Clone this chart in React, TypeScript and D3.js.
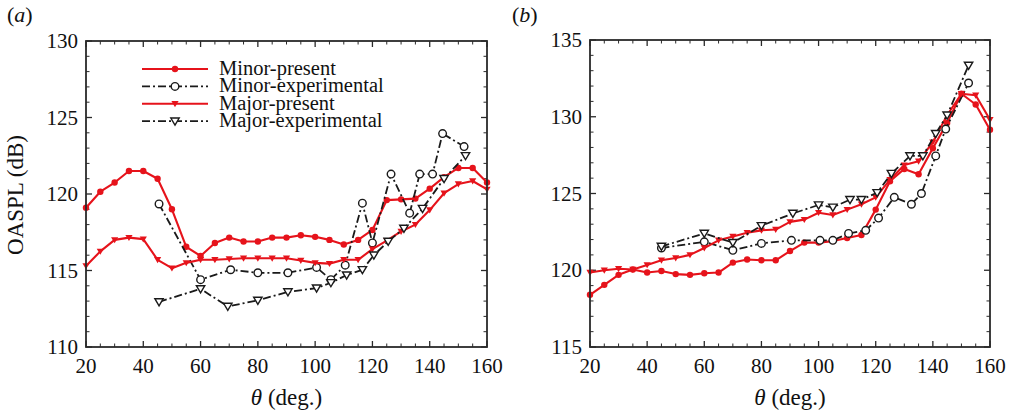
import React from "react";
import * as d3 from "d3";

// ---------- data ----------
const THETA_PRESENT = [20, 25, 30, 35, 40, 45, 50, 55, 60, 65, 70, 75, 80, 85, 90, 95, 100, 105, 110, 115, 120, 125, 130, 135, 140, 145, 150, 155, 160];

// Panel (a)
const A_MINOR_PRESENT = [119.1, 120.15, 120.75, 121.5, 121.5, 121.0, 119.0, 116.55, 115.95, 116.8, 117.15, 116.9, 116.9, 117.15, 117.15, 117.3, 117.2, 117.0, 116.7, 117.0, 117.65, 119.6, 119.65, 119.7, 120.35, 121.1, 121.7, 121.7, 120.75];
const A_MAJOR_PRESENT = [115.3, 116.25, 117.0, 117.15, 117.05, 115.7, 115.15, 115.5, 115.7, 115.7, 115.75, 115.8, 115.8, 115.8, 115.8, 115.65, 115.5, 115.45, 115.7, 115.7, 116.4, 116.95, 117.55, 118.0, 118.95, 120.05, 120.65, 120.85, 120.3];
const A_MINOR_EXP_THETA = [45.5, 60, 70.5, 80, 90.5, 100.5, 105.5, 110.5, 116.5, 120, 126.5, 133, 136.5, 141, 144.5, 152];
const A_MINOR_EXP = [119.35, 114.4, 115.05, 114.85, 114.85, 115.2, 114.4, 115.35, 119.4, 116.8, 121.3, 118.75, 121.3, 121.3, 123.95, 123.1];
const A_MAJOR_EXP_THETA = [45.5, 60, 69.5, 80, 90.5, 100.5, 105.5, 111, 116.5, 120.5, 125.5, 131, 137.5, 145, 152.5];
const A_MAJOR_EXP = [112.95, 113.8, 112.65, 113.05, 113.6, 113.85, 114.2, 114.7, 115.05, 116.0, 116.9, 117.75, 119.05, 121.0, 122.5];

// Panel (b)
const B_MINOR_PRESENT = [118.4, 119.05, 119.7, 120.05, 119.85, 119.95, 119.75, 119.7, 119.8, 119.85, 120.5, 120.7, 120.65, 120.65, 121.25, 121.8, 121.8, 121.9, 122.1, 122.3, 123.95, 125.8, 126.6, 126.25, 127.95, 129.6, 131.5, 130.8, 129.15];
const B_MAJOR_PRESENT = [119.85, 120.0, 120.1, 120.05, 120.35, 120.65, 120.8, 121.0, 121.45, 121.95, 122.2, 122.45, 122.6, 122.65, 123.15, 123.3, 123.75, 123.6, 123.95, 124.3, 124.75, 125.9, 126.85, 127.1, 128.35, 130.1, 131.5, 131.4, 129.8];
const B_MINOR_EXP_THETA = [45, 60, 70, 80, 90.5, 100.5, 105, 110.5, 116.5, 121, 126.5, 132.5, 136, 141, 144.5, 152.5];
const B_MINOR_EXP = [121.45, 121.85, 121.3, 121.75, 121.95, 121.95, 121.95, 122.4, 122.6, 123.4, 124.75, 124.3, 125.0, 127.45, 129.2, 132.2];
const B_MAJOR_EXP_THETA = [45, 60, 70, 80, 91, 100, 105, 111, 115, 120.5, 125.5, 132, 136.5, 141, 145, 152.5];
const B_MAJOR_EXP = [121.55, 122.4, 121.8, 122.9, 123.7, 124.25, 124.1, 124.6, 124.6, 125.05, 126.3, 127.45, 127.45, 128.9, 130.1, 133.35];

const SERIES_NAMES = ["Minor-present", "Minor-experimental", "Major-present", "Major-experimental"];
const A_Y_DOMAIN = [110, 130];
const B_Y_DOMAIN = [115, 135];
const X_DOMAIN = [20, 160];

// ---------- style ----------
const RED = "#e6131b";
const BLACK = "#1a1a1a";
const FRAME = "#2a2a2a";
const FONT = "'Liberation Serif', 'Times New Roman', serif";
const DASH = "8,3,2,3";

type Kind = "circleFilled" | "triFilled" | "circleHollow" | "triHollow";

const triDown = (s: number) => `M${-s},${-s * 0.75}L${s},${-s * 0.75}L0,${s * 0.95}Z`;

function Marker({ kind, cx, cy }: { kind: Kind; cx: number; cy: number }) {
  if (kind === "circleFilled") return <circle cx={cx} cy={cy} r={3.2} fill={RED} />;
  if (kind === "triFilled") return <path d={triDown(3.6)} transform={`translate(${cx},${cy})`} fill={RED} />;
  if (kind === "circleHollow")
    return <circle cx={cx} cy={cy} r={3.8} fill="white" stroke={BLACK} strokeWidth={1.4} />;
  return <path d={triDown(4.2)} transform={`translate(${cx},${cy})`} fill="white" stroke={BLACK} strokeWidth={1.4} />;
}

interface Series {
  xs: number[];
  ys: number[];
  color: string;
  dash?: string;
  kind: Kind;
}

function Panel({
  left, right, top, bottom, yDomain, series, tag, tagX, legend,
}: {
  left: number; right: number; top: number; bottom: number; yDomain: number[];
  series: Series[]; tag: string; tagX: number; legend: boolean;
}) {
  const x = d3.scaleLinear().domain(X_DOMAIN).range([left, right]);
  const y = d3.scaleLinear().domain(yDomain).range([bottom, top]);
  const xMajor = d3.range(X_DOMAIN[0], X_DOMAIN[1] + 0.1, 20);
  const xMinor = d3.range(X_DOMAIN[0], X_DOMAIN[1] + 0.1, 5).filter((v) => v % 20 !== 0);
  const yMajor = d3.range(yDomain[0], yDomain[1] + 0.1, 5);
  const yMinor = d3.range(yDomain[0], yDomain[1] + 0.1, 1).filter((v) => v % 5 !== 0);
  const line = d3.line<[number, number]>().x((d) => x(d[0])).y((d) => y(d[1]));
  const maj = 6, min = 3.5;

  return (
    <g>
      <g stroke={FRAME} strokeWidth={1.3}>
        {xMajor.map((v) => (
          <g key={"xm" + v}>
            <line x1={x(v)} x2={x(v)} y1={bottom} y2={bottom - maj} />
            <line x1={x(v)} x2={x(v)} y1={top} y2={top + maj} />
          </g>
        ))}
        {xMinor.map((v) => (
          <g key={"xn" + v}>
            <line x1={x(v)} x2={x(v)} y1={bottom} y2={bottom - min} strokeWidth={1} />
            <line x1={x(v)} x2={x(v)} y1={top} y2={top + min} strokeWidth={1} />
          </g>
        ))}
        {yMajor.map((v) => (
          <g key={"ym" + v}>
            <line x1={left} x2={left + maj} y1={y(v)} y2={y(v)} />
            <line x1={right} x2={right - maj} y1={y(v)} y2={y(v)} />
          </g>
        ))}
        {yMinor.map((v) => (
          <g key={"yn" + v}>
            <line x1={left} x2={left + min} y1={y(v)} y2={y(v)} strokeWidth={1} />
            <line x1={right} x2={right - min} y1={y(v)} y2={y(v)} strokeWidth={1} />
          </g>
        ))}
      </g>
      {series.map((s, i) => {
        const pts = s.xs.map((v, j) => [v, s.ys[j]] as [number, number]);
        return (
          <g key={"s" + i}>
            <path d={line(pts) || ""} fill="none" stroke={s.color} strokeWidth={s.dash ? 1.8 : 2.1}
              strokeDasharray={s.dash} strokeLinejoin="round" />
            {pts.map((p, j) => (
              <Marker key={j} kind={s.kind} cx={x(p[0])} cy={y(p[1])} />
            ))}
          </g>
        );
      })}
      <rect x={left} y={top} width={right - left} height={bottom - top} fill="none" stroke={FRAME} strokeWidth={1.8} />
      <g fontFamily={FONT} fontSize={21} fill="#111">
        {xMajor.map((v) => (
          <text key={"xl" + v} x={x(v)} y={bottom + 26} textAnchor="middle">{v}</text>
        ))}
        {yMajor.map((v) => (
          <text key={"yl" + v} x={left - 8} y={y(v) + 7} textAnchor="end">{v}</text>
        ))}
      </g>
      <text x={(left + right) / 2} y={bottom + 58} textAnchor="middle" fontFamily={FONT} fontSize={23} fill="#111">
        <tspan fontStyle="italic">θ</tspan> (deg.)
      </text>
      <text x={tagX} y={22} fontFamily={FONT} fontSize={22} fill="#111">(<tspan fontStyle="italic">{tag}</tspan>)</text>
      {legend && (
        <g fontFamily={FONT} fontSize={20.5} fill="#111">
          {series.map((s, i) => {
            const ly = 69 + i * 17.4;
            return (
              <g key={"lg" + i}>
                <line x1={142} x2={208} y1={ly} y2={ly} stroke={s.color} strokeWidth={s.dash ? 1.8 : 2.1}
                  strokeDasharray={s.dash} />
                <Marker kind={s.kind} cx={175} cy={ly} />
                <text x={219} y={ly + 6}>{SERIES_NAMES[i]}</text>
              </g>
            );
          })}
        </g>
      )}
    </g>
  );
}

export default function App() {
  const aSeries: Series[] = [
    { xs: THETA_PRESENT, ys: A_MINOR_PRESENT, color: RED, kind: "circleFilled" },
    { xs: A_MINOR_EXP_THETA, ys: A_MINOR_EXP, color: BLACK, dash: DASH, kind: "circleHollow" },
    { xs: THETA_PRESENT, ys: A_MAJOR_PRESENT, color: RED, kind: "triFilled" },
    { xs: A_MAJOR_EXP_THETA, ys: A_MAJOR_EXP, color: BLACK, dash: DASH, kind: "triHollow" },
  ];
  const bSeries: Series[] = [
    { xs: THETA_PRESENT, ys: B_MINOR_PRESENT, color: RED, kind: "circleFilled" },
    { xs: B_MINOR_EXP_THETA, ys: B_MINOR_EXP, color: BLACK, dash: DASH, kind: "circleHollow" },
    { xs: THETA_PRESENT, ys: B_MAJOR_PRESENT, color: RED, kind: "triFilled" },
    { xs: B_MAJOR_EXP_THETA, ys: B_MAJOR_EXP, color: BLACK, dash: DASH, kind: "triHollow" },
  ];
  return (
    <svg width={1009} height={417} style={{ position: "absolute", left: 0, top: 0, background: "white" }}>
      <rect width={1009} height={417} fill="white" />
      <Panel left={86} right={487} top={41} bottom={347} yDomain={A_Y_DOMAIN} series={aSeries} tag="a" tagX={7} legend={true} />
      <Panel left={590} right={990} top={40} bottom={347} yDomain={B_Y_DOMAIN} series={bSeries} tag="b" tagX={512} legend={false} />
      <text x={23} y={195} transform="rotate(-90,23,195)" textAnchor="middle" fontFamily={FONT} fontSize={23} fill="#111">
        OASPL (dB)
      </text>
    </svg>
  );
}
